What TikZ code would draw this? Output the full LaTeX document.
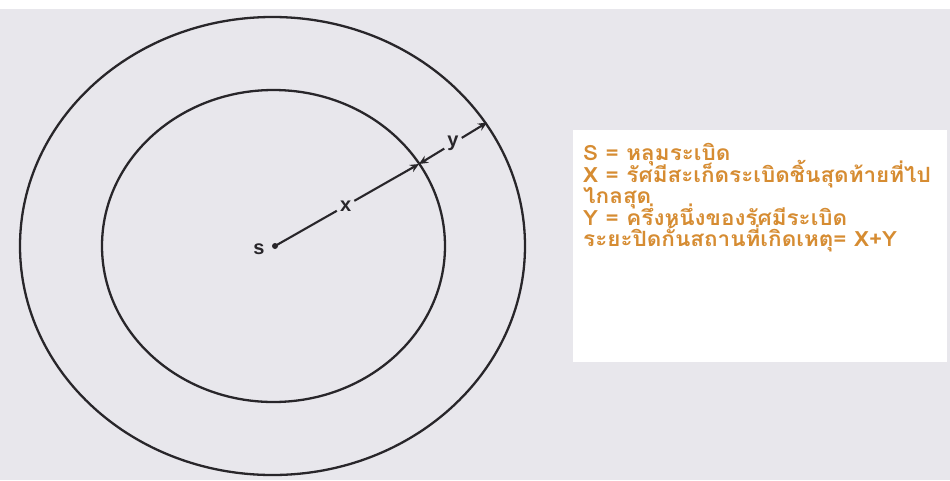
\documentclass[tikz,border=0pt]{standalone}
\usepackage{fontspec}
\setmainfont{Liberation Sans}
\newfontfamily\thaifont[Script=Thai,FakeStretch=1.07]{Loma}
\usetikzlibrary{arrows.meta,calc}
\definecolor{bg}{RGB}{232,231,236}
\definecolor{txt}{RGB}{214,140,50}
\definecolor{ink}{RGB}{40,38,42}
\newcommand\tightlines{\lineskiplimit=-100pt\relax\lineskip=0pt\relax}
\tikzset{
  ring/.style={draw=ink,line width=2.3pt},
  dim/.style={draw=ink,line width=2.1pt},
  dimarrow/.style={dim,-{Stealth[length=9pt,width=8pt]}},
  lbl/.style={text=ink,font=\fontsize{20}{20}\selectfont\bfseries,inner sep=3pt},
  legend/.style={text=txt,font={\thaifont\bfseries\fontsize{21}{21.6}\selectfont\tightlines},align=left,anchor=north west,inner sep=0pt}
}
\begin{document}
\begin{tikzpicture}[x=1pt,y=-1pt]
\useasboundingbox (0,0) rectangle (950,480);
\fill[white] (0,0) rectangle (950,480);
\fill[bg] (0,9) rectangle (950,480);
\fill[white] (573,130) rectangle (947,362);
\draw[ring] (272.5,246) ellipse [x radius=252.5pt, y radius=229pt];
\draw[ring] (273.5,246) ellipse [x radius=171.5pt, y radius=156pt];
\coordinate (S) at (275,246);
\coordinate (P1) at (419,164);
\coordinate (P2) at (487,122.5);
\fill[ink] (S) circle (3pt);
\node[lbl] (slab) at (259,249) {s};
\node[lbl] (xl) at ($(S)!0.49!(P1)$) {x};
\node[lbl] (yl) at ($(P1)!0.5!(P2)$) {y};
\draw[dim] (S) -- (xl);
\draw[dimarrow] (xl) -- (P1);
\draw[dimarrow] (yl) -- (P1);
\draw[dimarrow] (yl) -- (P2);
\node[legend] (legendtext) at (583,143) {S = หลุมระเบิด\\X = รัศมีสะเก็ดระเบิดชิ้นสุดท้ายที่ไป\\ไกลสุด\\Y = ครึ่งหนึ่งของรัศมีระเบิด\\ระยะปิดกั้นสถานที่เกิดเหตุ= X+Y};
\end{tikzpicture}
\end{document}
